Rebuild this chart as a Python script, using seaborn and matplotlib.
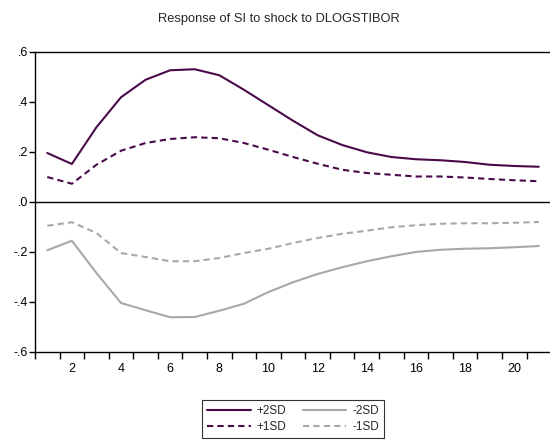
import matplotlib
matplotlib.use("Agg")
import matplotlib.pyplot as plt
import seaborn as sns
import pandas as pd
import numpy as np
from matplotlib.ticker import FixedLocator, FixedFormatter

periods = list(range(1, 22))
plus2sd = [0.196, 0.152, 0.299, 0.419, 0.489, 0.527, 0.531, 0.507, 0.449, 0.387,
           0.325, 0.267, 0.228, 0.199, 0.180, 0.171, 0.167, 0.160, 0.149, 0.144, 0.141]
plus1sd = [0.100, 0.073, 0.149, 0.205, 0.236, 0.252, 0.259, 0.255, 0.236, 0.209,
           0.180, 0.153, 0.129, 0.116, 0.109, 0.102, 0.102, 0.098, 0.092, 0.087, 0.083]
minus2sd = [-0.193, -0.155, -0.284, -0.404, -0.433, -0.461, -0.460, -0.435, -0.407, -0.360,
            -0.321, -0.288, -0.261, -0.237, -0.217, -0.200, -0.191, -0.187, -0.185, -0.181, -0.176]
minus1sd = [-0.095, -0.081, -0.124, -0.204, -0.220, -0.237, -0.237, -0.224, -0.204, -0.187,
            -0.164, -0.144, -0.127, -0.115, -0.101, -0.093, -0.087, -0.085, -0.085, -0.083, -0.080]
series_names = ["+2SD", "+1SD", "-2SD", "-1SD"]
ytick_vals = [-0.6, -0.4, -0.2, 0.0, 0.2, 0.4, 0.6]
ytick_labels = ["-.6", "-.4", "-.2", ".0", ".2", ".4", ".6"]
xtick_vals = [2, 4, 6, 8, 10, 12, 14, 16, 18, 20]
title = "Response of SI to shock to DLOGSTIBOR"

sns.set_style("white")
plt.rcParams["font.family"] = ["Liberation Sans", "DejaVu Sans"]

purple = "#4a0a4a"
gray = "#a8a8a8"
styles = {
    "+2SD": dict(color=purple, ls="-"),
    "+1SD": dict(color=purple, ls=(0, (3, 2))),
    "-2SD": dict(color=gray, ls="-"),
    "-1SD": dict(color=gray, ls=(0, (3, 2))),
}
data = {"+2SD": plus2sd, "+1SD": plus1sd, "-2SD": minus2sd, "-1SD": minus1sd}

fig = plt.figure(figsize=(5.5, 4.45), dpi=100)
ax = fig.add_axes([35 / 550, 1 - 352 / 445, 1 - 35 / 550 + 0.002, (352 - 52) / 445])

df = pd.DataFrame({"period": periods})
for name in series_names:
    df[name] = data[name]
    sns.lineplot(data=df, x="period", y=name, ax=ax, color=styles[name]["color"],
                 linestyle=styles[name]["ls"], linewidth=1.5, label=name, legend=False)

ax.axhline(0, color="black", lw=1.0, zorder=1)
ax.set_xlim(0.5, 21.5)
ax.set_ylim(-0.6, 0.6)
ax.set_xlabel("")
ax.set_ylabel("")

ax.yaxis.set_major_locator(FixedLocator(ytick_vals))
ax.yaxis.set_major_formatter(FixedFormatter(ytick_labels))
ax.xaxis.set_major_locator(FixedLocator(xtick_vals))
ax.xaxis.set_major_formatter(FixedFormatter([str(v) for v in xtick_vals]))
ax.xaxis.set_minor_locator(FixedLocator([p - 0.5 for p in periods] + [21.5]))
ax.tick_params(axis="x", which="major", length=0, labelsize=9, pad=8, colors="black")
ax.tick_params(axis="x", which="minor", length=5, width=1, direction="out", color="black", bottom=True)
ax.tick_params(axis="y", which="major", length=4, width=1, direction="out", labelsize=9, pad=1, left=True, colors="black")

for s in ["left", "bottom", "top"]:
    ax.spines[s].set_color("black")
    ax.spines[s].set_linewidth(1.0)
ax.spines["right"].set_visible(False)

fig.text(279 / 550, 1 - 19 / 445, title, ha="center", va="center", fontsize=9.3)

h, l = ax.get_legend_handles_labels()
leg = fig.legend(h, l, ncol=2, loc="upper center", bbox_to_anchor=(293 / 550, 1 - 394 / 445),
                 frameon=True, fancybox=False, edgecolor="black", fontsize=8.5,
                 handlelength=3.7, columnspacing=1.4, handletextpad=0.5, borderpad=0.45,
                 labelspacing=0.3)
leg.get_frame().set_linewidth(0.8)

fig.savefig("out.png", dpi=100)
